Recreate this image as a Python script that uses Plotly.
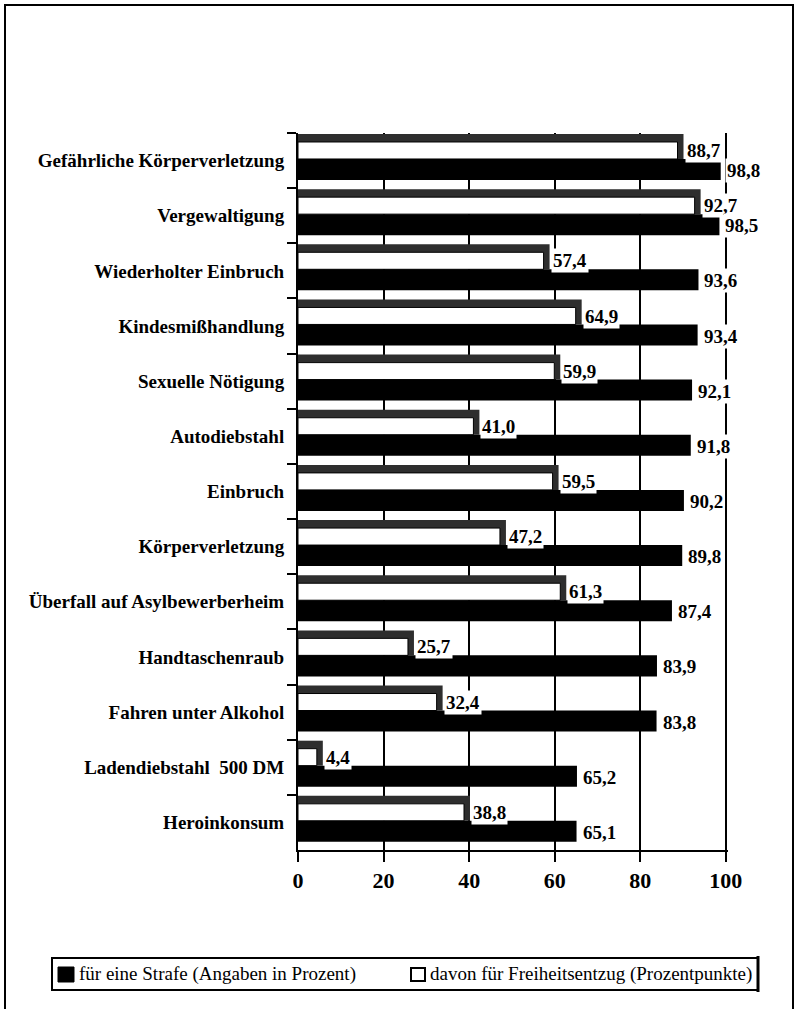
import plotly.graph_objects as go

# Offences, top to bottom
categories = [
    "Gefährliche Körperverletzung",
    "Vergewaltigung",
    "Wiederholter Einbruch",
    "Kindesmißhandlung",
    "Sexuelle Nötigung",
    "Autodiebstahl",
    "Einbruch",
    "Körperverletzung",
    "Überfall auf Asylbewerberheim",
    "Handtaschenraub",
    "Fahren unter Alkohol",
    "Ladendiebstahl\u00a0\u00a0500 DM",
    "Heroinkonsum",
]

# share voting for a punishment (percent)
strafe = [98.8, 98.5, 93.6, 93.4, 92.1, 91.8, 90.2, 89.8, 87.4, 83.9, 83.8, 65.2, 65.1]
# of which: for imprisonment (percentage points)
freiheit = [88.7, 92.7, 57.4, 64.9, 59.9, 41.0, 59.5, 47.2, 61.3, 25.7, 32.4, 4.4, 38.8]

x_ticks = [0, 20, 40, 60, 80, 100]

name_strafe = "für eine Strafe (Angaben in Prozent)"
name_freiheit = "davon für Freiheitsentzug (Prozentpunkte)"

SERIF = "Liberation Serif"
W, H = 797, 1009
L, R, T, B = 298, 69, 133, 159
X_MAX = 100.5
DEPTH = 1.4  # x-units of the pseudo 3D side face


def fmt(v):
    return f"{v:.1f}".replace(".", ",")


fig = go.Figure()

# dark top/side face behind the white bars
fig.add_trace(go.Bar(
    y=categories, x=[v + DEPTH for v in freiheit], orientation="h",
    offset=-0.482, width=0.453,
    marker=dict(color="#2e2e2e", line=dict(width=0)),
    showlegend=False, hoverinfo="skip",
))

# white front face
fig.add_trace(go.Bar(
    y=categories, x=freiheit, orientation="h", name=name_freiheit,
    offset=-0.337, width=0.308,
    marker=dict(color="white", line=dict(color="black", width=1)),
    showlegend=False,
))

# black bars
fig.add_trace(go.Bar(
    y=categories, x=strafe, orientation="h", name=name_strafe,
    offset=-0.029, width=0.381,
    marker=dict(color="black", line=dict(width=0)),
    showlegend=False,
))

label_font = dict(family=SERIF, size=19, color="black", weight="bold")
annotations = []
for cat, v in zip(categories, freiheit):
    annotations.append(dict(
        x=v + DEPTH, y=cat, xref="x", yref="y", text=fmt(v),
        showarrow=False, xanchor="left", yanchor="middle",
        xshift=1, yshift=10, bgcolor="white", borderpad=1, font=label_font,
    ))
for cat, v in zip(categories, strafe):
    annotations.append(dict(
        x=v, y=cat, xref="x", yref="y", text=fmt(v),
        showarrow=False, xanchor="left", yanchor="middle",
        xshift=4, yshift=-10, bgcolor="white", borderpad=1, font=label_font,
    ))

plot_w = W - L - R
plot_h = H - T - B


def px_x(px):
    return (px - L) / plot_w


def px_y(py):
    return (H - B - py) / plot_h


shapes = [
    # outer frame
    dict(type="rect", xref="paper", yref="paper",
         x0=px_x(5), x1=px_x(793), y0=px_y(1012), y1=px_y(5),
         line=dict(color="black", width=2), fillcolor="rgba(0,0,0,0)",
         layer="above"),
    # legend frame
    dict(type="rect", xref="paper", yref="paper",
         x0=px_x(52), x1=px_x(758), y0=px_y(990), y1=px_y(958),
         line=dict(color="black", width=2), fillcolor="white", layer="above"),
    dict(type="line", xref="paper", yref="paper",
         x0=px_x(758), x1=px_x(758), y0=px_y(992), y1=px_y(956),
         line=dict(color="black", width=3), layer="above"),
    # legend keys
    dict(type="rect", xref="paper", yref="paper",
         x0=px_x(58), x1=px_x(74), y0=px_y(982), y1=px_y(967),
         line=dict(color="black", width=1), fillcolor="black", layer="above"),
    dict(type="rect", xref="paper", yref="paper",
         x0=px_x(411), x1=px_x(425), y0=px_y(981), y1=px_y(968),
         line=dict(color="black", width=2), fillcolor="white", layer="above"),
]

legend_font = dict(family=SERIF, size=19, color="black")
annotations.append(dict(
    x=px_x(77), y=px_y(974), xref="paper", yref="paper", text=name_strafe,
    showarrow=False, xanchor="left", yanchor="middle", font=legend_font,
))
annotations.append(dict(
    x=px_x(428), y=px_y(974), xref="paper", yref="paper", text=name_freiheit,
    showarrow=False, xanchor="left", yanchor="middle", font=legend_font,
))

fig.update_layout(
    width=W, height=H,
    margin=dict(l=L, r=R, t=T, b=B, pad=0),
    paper_bgcolor="white", plot_bgcolor="white",
    barmode="overlay",
    font=dict(family=SERIF, color="black"),
    annotations=annotations,
    shapes=shapes,
    showlegend=False,
    xaxis=dict(
        range=[0, X_MAX], tickmode="array", tickvals=x_ticks,
        ticktext=[str(t) for t in x_ticks],
        showgrid=True, gridcolor="black", gridwidth=2,
        zeroline=False, showline=True, linecolor="black", linewidth=2,
        ticks="outside", ticklen=10, tickwidth=2, tickcolor="black",
        tickfont=dict(family=SERIF, size=22, color="black", weight="bold"),
    ),
    yaxis=dict(
        type="category", categoryorder="array", categoryarray=categories,
        range=[len(categories) - 0.5, -0.5],
        showgrid=False, zeroline=False,
        showline=True, linecolor="black", linewidth=2,
        ticks="outside", tickson="boundaries", ticklen=9, tickwidth=2,
        tickcolor="black", ticklabelstandoff=8,
        tickfont=dict(family=SERIF, size=19, color="black", weight="bold"),
    ),
)

fig.write_html("out.html")
